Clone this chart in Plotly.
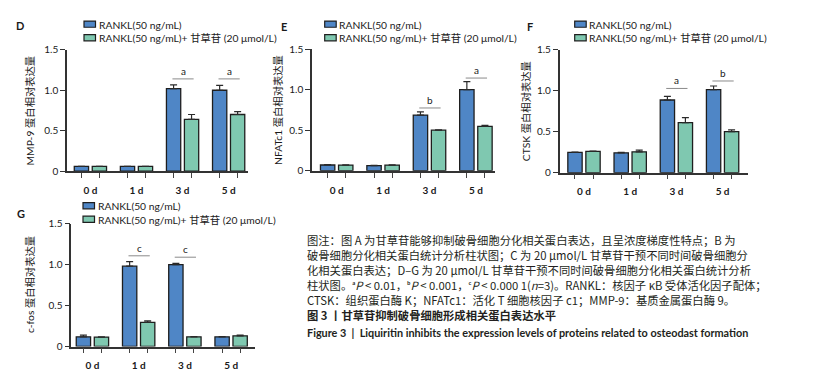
import plotly.graph_objects as go

W, H = 816, 379

categories = ["0 d", "1 d", "3 d", "5 d"]
series_names = ["RANKL(50 ng/mL)", "RANKL(50 ng/mL)+ 甘草苷 (20 μmol/L)"]

# Panel D: MMP-9
D_rankl = [0.06, 0.06, 1.02, 1.00]
D_rankl_err = [0.0, 0.0, 0.045, 0.06]
D_liq = [0.06, 0.06, 0.64, 0.70]
D_liq_err = [0.0, 0.0, 0.06, 0.035]
D_sig = [(2, 1.14, "a"), (3, 1.14, "a")]

# Panel E: NFATc1
E_rankl = [0.071, 0.063, 0.686, 1.00]
E_rankl_err = [0.004, 0.003, 0.04, 0.10]
E_liq = [0.07, 0.07, 0.50, 0.548]
E_liq_err = [0.003, 0.004, 0.003, 0.012]
E_sig = [(2, 0.774, "b"), (3, 1.143, "a")]

# Panel F: CTSK
F_rankl = [0.247, 0.243, 0.887, 1.013]
F_rankl_err = [0.005, 0.005, 0.045, 0.045]
F_liq = [0.26, 0.255, 0.612, 0.502]
F_liq_err = [0.003, 0.02, 0.06, 0.02]
F_sig = [(2, 1.028, "a"), (3, 1.119, "b")]

# Panel G: c-fos
G_rankl = [0.118, 0.98, 1.00, 0.118]
G_rankl_err = [0.02, 0.055, 0.015, 0.003]
G_liq = [0.115, 0.294, 0.118, 0.13]
G_liq_err = [0.003, 0.02, 0.004, 0.01]
G_sig = [(1, 1.107, "c"), (2, 1.09, "c")]

y_ticks = [0, 0.5, 1.0, 1.5]
y_ticktext = ["0", "0.5", "1.0", "1.5"]

caption_lines = [
    "图注：图 A 为甘草苷能够抑制破骨细胞分化相关蛋白表达，且呈浓度梯度性特点；B 为",
    "破骨细胞分化相关蛋白统计分析柱状图；C 为 20 μmol/L 甘草苷干预不同时间破骨细胞分",
    "化相关蛋白表达；D–G 为 20 μmol/L 甘草苷干预不同时间破骨细胞分化相关蛋白统计分析",
    "柱状图。ᵃ<i>P</i> < 0.01，ᵇ<i>P</i> < 0.001，ᶜ<i>P</i> < 0.000 1(<i>n</i>=3)。RANKL：核因子 κB 受体活化因子配体；",
    "CTSK：组织蛋白酶 K；NFATc1：活化 T 细胞核因子 c1；MMP-9：基质金属蛋白酶 9。",
]
title_cn = "<b>图 3 丨甘草苷抑制破骨细胞形成相关蛋白表达水平</b>"
title_en = "<b>Figure 3  |  Liquiritin inhibits the expression levels of proteins related to osteodast formation</b>"

BLUE = "#4f86c6"
GREEN = "#7fc8b0"
EDGE = "#1e1e1e"
AXC = "#333333"
TXT = "#1a1a1a"
FONT = "Lato, 'Noto Sans CJK SC', sans-serif"
CJKFONT = "'Noto Sans CJK SC', Lato, sans-serif"

# panel layout in pixels
panels = [
    dict(letter="D", title="MMP-9 蛋白相对表达量", r=D_rankl, re=D_rankl_err, l=D_liq, le=D_liq_err, sig=D_sig,
         x0=59, x1=240, y0=36, y1=161.7, xr=(-0.508, 3.42), lx=12, ly=11, tx=22,
         leg=(76, 9.5)),
    dict(letter="E", title="NFATc1 蛋白相对表达量", r=E_rankl, re=E_rankl_err, l=E_liq, le=E_liq_err, sig=E_sig,
         x0=304, x1=486.7, y0=35.3, y1=161.3, xr=(-0.532, 3.405), lx=276, ly=11.5, tx=270,
         leg=(316.7, 9.5)),
    dict(letter="F", title="CTSK 蛋白相对表达量", r=F_rankl, re=F_rankl_err, l=F_liq, le=F_liq_err, sig=F_sig,
         x0=551.7, x1=740, y0=36, y1=163.3, xr=(-0.526, 3.55), lx=522, ly=11.5, tx=518,
         leg=(566.7, 9.5)),
    dict(letter="G", title="c-fos 蛋白相对表达量", r=G_rankl, re=G_rankl_err, l=G_liq, le=G_liq_err, sig=G_sig,
         x0=63.3, x1=246.7, y0=216, y1=343.3, xr=(-0.457, 3.51), lx=13, ly=206, tx=22,
         leg=(75, 197.5)),
]

BW = 0.31
OFF = 0.195

fig = go.Figure()
annotations = []
shapes = []

def px(x):
    return x / W

def py(y):
    return 1 - y / H

xs = list(range(len(categories)))
minor_vals = []
for k in xs:
    minor_vals += [k - OFF, k + OFF]

for i, p in enumerate(panels):
    n = "" if i == 0 else str(i + 1)
    xa, ya = "x" + n, "y" + n
    for vals, errs, col in [(p["r"], p["re"], BLUE), (p["l"], p["le"], GREEN)]:
        off = -OFF - BW / 2 if col == BLUE else OFF - BW / 2
        fig.add_trace(go.Bar(
            x=xs, y=vals, width=BW, offset=off, xaxis=xa, yaxis=ya,
            marker=dict(color=col, line=dict(color=EDGE, width=1.3)),
            error_y=dict(type="data", array=errs, arrayminus=[0] * len(errs), symmetric=False,
                         color="#2a2a2a", thickness=1.2, width=3.5),
            showlegend=False, hoverinfo="skip",
        ))
    fig.update_layout(**{
        "xaxis" + n: dict(domain=[px(p["x0"]), px(p["x1"])], range=list(p["xr"]), anchor=ya,
                          tickmode="array", tickvals=xs, ticktext=["<b>%s</b>" % c for c in categories],
                          ticks="outside", ticklen=0, tickcolor=AXC, ticklabelstandoff=9,
                          tickfont=dict(size=10, color=TXT, family=FONT),
                          minor=dict(tickmode="array", tickvals=minor_vals, ticks="outside",
                                     ticklen=5, tickwidth=1.3, tickcolor="#444444", showgrid=False),
                          showline=True, linecolor=AXC, linewidth=1.6, showgrid=False, zeroline=False,
                          fixedrange=True),
        "yaxis" + n: dict(domain=[py(p["y1"]), py(p["y0"])], range=[0, 1.5], anchor=xa,
                          tickmode="array", tickvals=y_ticks, ticktext=y_ticktext,
                          ticks="outside", ticklen=5, tickwidth=1.3, tickcolor=AXC,
                          tickfont=dict(size=10, color=TXT, family=FONT),
                          showline=True, linecolor=AXC, linewidth=1.6, showgrid=False, zeroline=False,
                          fixedrange=True),
    })
    # significance markers
    for (c, yv, lab) in p["sig"]:
        shapes.append(dict(type="line", xref=xa, yref=ya, x0=c - 0.22, x1=c + 0.24, y0=yv, y1=yv,
                           line=dict(color="#8a8a8a", width=1)))
        annotations.append(dict(xref=xa, yref=ya, x=c + 0.01, y=yv, text=lab, showarrow=False,
                                yanchor="bottom", yshift=0, font=dict(size=10, color=TXT, family=FONT)))
    # panel letter
    annotations.append(dict(xref="paper", yref="paper", x=px(p["lx"]), y=py(p["ly"]), text="<b>%s</b>" % p["letter"],
                            showarrow=False, xanchor="center", yanchor="middle",
                            font=dict(size=11, color=TXT, family=FONT)))
    # y title
    annotations.append(dict(xref="paper", yref="paper", x=px(p["tx"]), y=py((p["y0"] + p["y1"]) / 2),
                            text=p["title"], textangle=-90, showarrow=False, xanchor="center", yanchor="middle",
                            font=dict(size=10.3, color=TXT, family=FONT)))
    # legend
    lx0, ly0 = p["leg"]
    for j, (nm, col) in enumerate(zip(series_names, [BLUE, GREEN])):
        cy = ly0 + j * 14
        shapes.append(dict(type="rect", xref="paper", yref="paper", x0=px(lx0), x1=px(lx0 + 11.5),
                           y0=py(cy + 3.2), y1=py(cy - 3.2), fillcolor=col, line=dict(color=EDGE, width=1.2)))
        annotations.append(dict(xref="paper", yref="paper", x=px(lx0 + 12.5), y=py(cy + 0.5), text=nm,
                                showarrow=False, xanchor="left", yanchor="middle",
                                font=dict(size=10.3, color=TXT, family=FONT)))

# caption
cap_x = 296.7
cap_y = [232.7, 248.3, 264.0, 279.5, 295.0]
for t, yy in zip(caption_lines, cap_y):
    annotations.append(dict(xref="paper", yref="paper", x=px(cap_x), y=py(yy), text=t, showarrow=False,
                            xanchor="left", yanchor="middle",
                            font=dict(size=11.3, color="#231f20", family=CJKFONT)))
annotations.append(dict(xref="paper", yref="paper", x=px(cap_x), y=py(310.5), text=title_cn, showarrow=False,
                        xanchor="left", yanchor="middle",
                        font=dict(size=11.3, color="#231f20", family=CJKFONT)))
annotations.append(dict(xref="paper", yref="paper", x=px(cap_x), y=py(328.5), text=title_en, showarrow=False,
                        xanchor="left", yanchor="middle",
                        font=dict(size=10.85, color="#231f20", family=FONT)))

fig.update_layout(
    width=W, height=H, margin=dict(l=0, r=0, t=0, b=0),
    paper_bgcolor="white", plot_bgcolor="white",
    barmode="overlay", showlegend=False,
    annotations=annotations, shapes=shapes,
    font=dict(family=FONT, color=TXT),
)

fig.write_html("out.html")
